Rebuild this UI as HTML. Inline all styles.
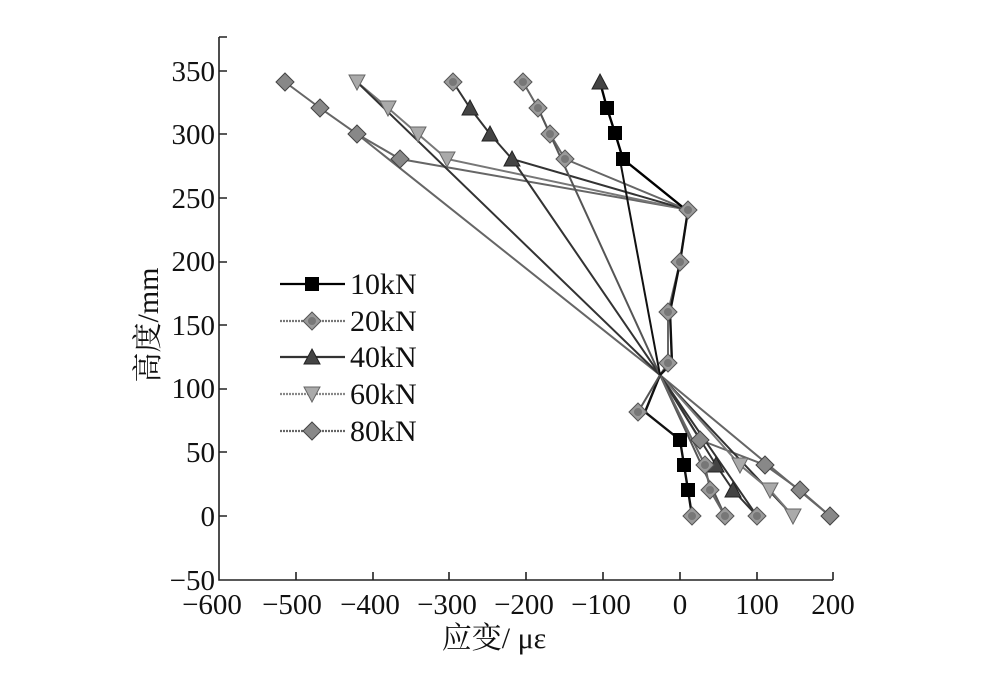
<!DOCTYPE html>
<html><head><meta charset="utf-8"><style>
body{margin:0;background:#fff;}
svg text{font-family:"Liberation Serif","Noto Serif CJK SC",serif;fill:#111;}
</style></head><body>
<svg width="1000" height="687" viewBox="0 0 1000 687" xmlns="http://www.w3.org/2000/svg">
<defs>
<g id="sq"><rect x="-7" y="-7" width="14" height="14" fill="#000"/></g>
<g id="di"><polygon points="0,-9 9,0 0,9 -9,0" fill="#9a9a9a" stroke="#555" stroke-width="1"/><circle r="4" fill="#777"/></g>
<g id="tr"><polygon points="0,-8 8,7 -8,7" fill="#444" stroke="#222"/></g>
<g id="tv"><polygon points="0,8 8,-7 -8,-7" fill="#aaa" stroke="#666"/></g>
<g id="dm"><polygon points="0,-9 9,0 0,9 -9,0" fill="#888" stroke="#444"/></g>
</defs>
<g stroke="#222" stroke-width="1.6" fill="none">
<polyline points="219,37 219,580 833,580"/>
<path d="M219,37h8 M219,71h8 M219,134h8 M219,198h8 M219,262h8 M219,325h8 M219,389h8 M219,452h8 M219,516h8
M296,580v-8 M373,580v-8 M449,580v-8 M526,580v-8 M603,580v-8 M680,580v-8 M757,580v-8 M833,580v-8"/>
</g>
<g font-size="29" text-anchor="end">
<text x="215" y="81">350</text><text x="215" y="144">300</text><text x="215" y="208">250</text>
<text x="215" y="271">200</text><text x="215" y="335">150</text><text x="215" y="398">100</text>
<text x="215" y="462">50</text><text x="215" y="526">0</text><text x="215" y="590">−50</text>
</g>
<g font-size="29" text-anchor="middle">
<text x="212" y="614">−600</text><text x="292" y="614">−500</text><text x="370" y="614">−400</text>
<text x="447" y="614">−300</text><text x="524" y="614">−200</text><text x="601" y="614">−100</text>
<text x="680" y="614">0</text><text x="757" y="614">100</text><text x="833" y="614">200</text>
<text font-size="30" x="494" y="648">应变/ με</text>
</g>
<text font-size="30" text-anchor="middle" transform="translate(158,325) rotate(-90)">高度/mm</text>

<g fill="none" stroke-width="2">
<polyline stroke="#666" points="285,82 320,108 357,134 400,159 690,210"/>
<polyline stroke="#666" points="357,134 660,375 830,516"/>
<polyline stroke="#666" points="660,375 700,440 765,465 800,490 830,516"/>
<polyline stroke="#777" points="357,82 388,108 418,134 447,159 688,210"/>
<polyline stroke="#333" points="357,82 660,375 793,516"/>
<polyline stroke="#777" points="660,375 740,465 770,490 793,516"/>
<polyline stroke="#333" points="453,82 470,108 490,134 512,159 688,210"/>
<polyline stroke="#333" points="512,159 660,375 757,516"/>
<polyline stroke="#333" points="660,375 716,465 733,490 757,516"/>
<polyline stroke="#666" points="523,82 538,108 550,134 565,159 688,210 680,262 668,312 668,363 660,375"/>
<polyline stroke="#555" points="538,108 660,375 725,516"/>
<polyline stroke="#666" points="660,375 705,465 710,490 725,516"/>
<polyline stroke="#000" stroke-width="2.4" points="600,82 607,108 615,133 623,159 685,209"/>
<polyline stroke="#111" points="620,160 660,375"/>
<polyline stroke="#111" stroke-width="2.4" points="688,210 680,262 670,312 672,363 660,375 645,412 680,440 684,465 688,490 692,516"/>
<polyline stroke="#555" points="660,375 638,412"/>
</g>
<g>
<use href="#dm" x="285" y="82"/><use href="#dm" x="320" y="108"/><use href="#dm" x="357" y="134"/><use href="#dm" x="400" y="159"/>
<use href="#dm" x="765" y="465"/><use href="#dm" x="800" y="490"/><use href="#dm" x="830" y="516"/><use href="#dm" x="700" y="440"/>
<use href="#tv" x="357" y="82"/><use href="#tv" x="388" y="108"/><use href="#tv" x="418" y="134"/><use href="#tv" x="447" y="159"/>
<use href="#tv" x="740" y="465"/><use href="#tv" x="770" y="490"/><use href="#tv" x="793" y="516"/>
<use href="#di" x="453" y="82"/><use href="#tr" x="470" y="108"/><use href="#tr" x="490" y="134"/><use href="#tr" x="512" y="159"/>
<use href="#tr" x="716" y="465"/><use href="#tr" x="733" y="490"/><use href="#di" x="757" y="516"/>
<use href="#di" x="523" y="82"/><use href="#di" x="538" y="108"/><use href="#di" x="550" y="134"/><use href="#di" x="565" y="159"/>
<use href="#di" x="705" y="465"/><use href="#di" x="710" y="490"/><use href="#di" x="725" y="516"/>
<use href="#di" x="688" y="210"/><use href="#di" x="680" y="262"/><use href="#di" x="668" y="312"/><use href="#di" x="668" y="363"/><use href="#di" x="638" y="412"/>
<use href="#tr" x="600" y="82"/><use href="#sq" x="607" y="108"/><use href="#sq" x="615" y="133"/><use href="#sq" x="623" y="159"/>
<use href="#sq" x="680" y="440"/><use href="#sq" x="684" y="465"/><use href="#sq" x="688" y="490"/><use href="#di" x="692" y="516"/>
</g>
<g stroke-width="2.2" fill="none">
<line x1="280" y1="284" x2="345" y2="284" stroke="#000"/>
<line x1="280" y1="321" x2="345" y2="321" stroke="#777" stroke-dasharray="2,1"/>
<line x1="280" y1="357" x2="345" y2="357" stroke="#333"/>
<line x1="280" y1="394" x2="345" y2="394" stroke="#888" stroke-dasharray="2,1"/>
<line x1="280" y1="431" x2="345" y2="431" stroke="#666" stroke-dasharray="2,1"/>
</g>
<use href="#sq" x="312" y="284"/><use href="#di" x="312" y="321"/><use href="#tr" x="312" y="357"/><use href="#tv" x="312" y="394"/><use href="#dm" x="312" y="431"/>
<g font-size="30">
<text x="350" y="294">10kN</text><text x="350" y="331">20kN</text><text x="350" y="367">40kN</text>
<text x="350" y="404">60kN</text><text x="350" y="441">80kN</text>
</g>
</svg>
</body></html>
